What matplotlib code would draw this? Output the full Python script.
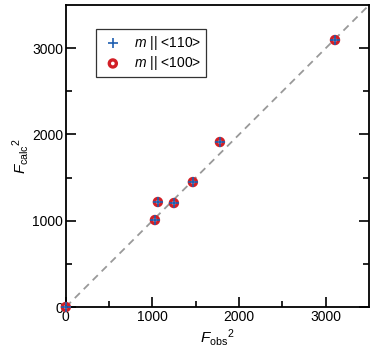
import matplotlib.pyplot as plt
import numpy as np

plt.rcParams['font.family'] = ['Liberation Sans', 'DejaVu Sans']
plt.rcParams['mathtext.fontset'] = 'custom'
plt.rcParams['mathtext.rm'] = 'Liberation Sans'
plt.rcParams['mathtext.it'] = 'Liberation Sans:italic'

# observed vs calculated squared structure factors
f_obs = [0, 1028, 1062, 1247, 1466, 1778, 3106]
f_calc = [0, 1008, 1217, 1205, 1448, 1912, 3094]
ticks = [0, 1000, 2000, 3000]

fig = plt.figure(figsize=(3.74, 3.57), dpi=100)
ax = fig.add_axes([0.176, 0.140, 0.811, 0.846])

ax.plot([0, 3500], [0, 3500], ls=(0, (4, 3)), color='#999999', lw=1.3, zorder=1)

circ = ax.scatter(f_obs, f_calc, s=26, facecolors='none', edgecolors='#d21f26',
                  linewidths=2.4, zorder=4, label=r'$m$ || <100>', clip_on=False)
plus = ax.scatter(f_obs, f_calc, s=50, marker='+', color='#1f5fb0',
                  linewidths=1.2, zorder=5, label=r'$m$ || <110>', clip_on=False)

ax.set_xlim(0, 3500)
ax.set_ylim(0, 3500)
ax.set_xticks(ticks)
ax.set_yticks(ticks)
ax.set_xticks(np.arange(500, 3500, 1000), minor=True)
ax.set_yticks(np.arange(500, 3500, 1000), minor=True)
ax.tick_params(which='both', direction='in', right=True, top=False,
               labelsize=10, width=1.2, pad=2)
ax.tick_params(which='major', length=7)
ax.tick_params(which='minor', length=4)
for s in ax.spines.values():
    s.set_linewidth(1.3)
    s.set_zorder(3)

ax.set_xlabel(r'$F_{\rm obs}{}^{2}$', fontsize=11, labelpad=2)
ax.set_ylabel(r'$F_{\rm calc}{}^{2}$', fontsize=11, labelpad=1)

leg = ax.legend(handles=[plus, circ], loc='upper left',
                bbox_to_anchor=(0.10, 0.92), fancybox=False,
                edgecolor='black', fontsize=10, handletextpad=0.7,
                handlelength=1.7, borderpad=0.35, labelspacing=0.15,
                borderaxespad=0)
leg.get_frame().set_linewidth(0.9)
leg.set_zorder(6)

fig.savefig('out.png', dpi=100)
